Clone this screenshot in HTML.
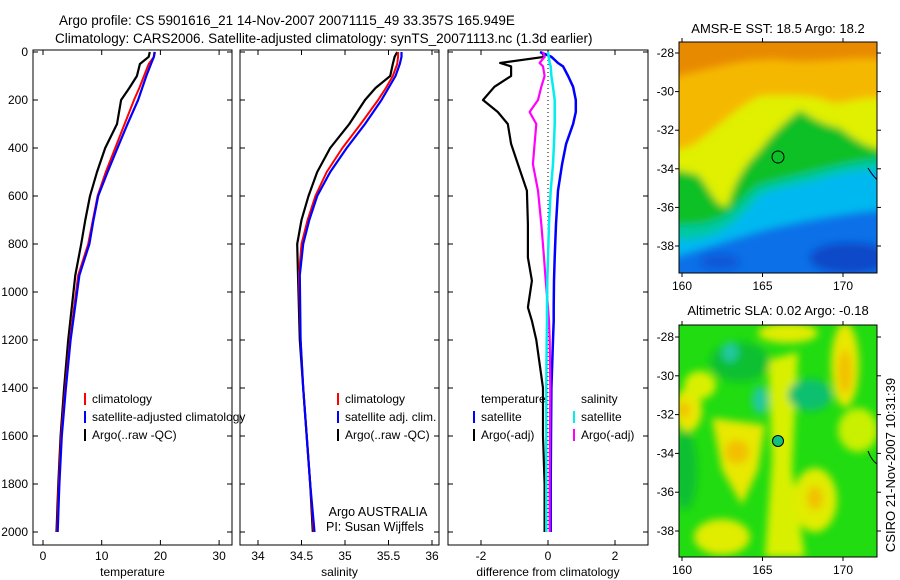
<!DOCTYPE html>
<html><head><meta charset="utf-8"><style>
body{margin:0;background:#fff}
svg{display:block;font-family:"Liberation Sans",sans-serif}
text{fill:#000}
</style></head><body>
<svg id="c" width="900" height="580" xmlns="http://www.w3.org/2000/svg">
<defs>
<filter id="bl" x="-20%" y="-20%" width="140%" height="140%"><feGaussianBlur stdDeviation="4"/></filter>
<filter id="bl2" x="-50%" y="-50%" width="200%" height="200%"><feGaussianBlur stdDeviation="4"/></filter>
<clipPath id="m1"><rect x="679" y="42" width="198" height="231"/></clipPath>
<clipPath id="m2"><rect x="679" y="325" width="198" height="232"/></clipPath>
</defs>
<text x="59" y="25" font-size="13.5">Argo profile: CS 5901616_21 14-Nov-2007 20071115_49 33.357S 165.949E</text>
<text x="55" y="43" font-size="13.5">Climatology: CARS2006. Satellite-adjusted climatology: synTS_20071113.nc (1.3d earlier)</text>

<!-- Map 1 -->
<g clip-path="url(#m1)">
<rect x="679" y="42" width="198" height="231" fill="#0c70e8"/>
<g filter="url(#bl)">
<path d="M660,30 H890 V210 C860,212 820,218 790,225 C760,230 720,245 660,262 Z" fill="#00b8f0"/>
<path d="M660,30 H890 V168 C860,170 840,172 810,182 C790,186 770,190 760,195 C745,212 730,232 700,238 C690,240 675,240 660,240 Z" fill="#00c8a0"/>
<path d="M660,30 H890 V158 C860,160 840,165 820,170 C800,175 785,178 760,185 C745,192 735,215 715,220 C700,226 680,225 660,225 Z" fill="#10c028"/>
<path d="M660,30 H890 V150 C870,150 855,140 840,128 C825,125 815,120 800,110 C790,118 775,130 760,150 C745,165 735,180 728,205 C718,212 708,185 698,175 C688,172 678,170 660,168 Z" fill="#e0f000"/>
<path d="M660,30 H890 V100 C860,92 840,110 825,100 C810,95 790,95 760,96 C740,105 720,125 700,140 C690,148 680,150 660,152 Z" fill="#f5b800"/>
<path d="M660,30 H890 V60 C850,55 820,65 780,60 C740,58 710,70 660,80 Z" fill="#e88a00"/>
</g>
<ellipse cx="850" cy="258" rx="40" ry="15" fill="#0848c8" filter="url(#bl2)"/>
<ellipse cx="720" cy="262" rx="20" ry="8" fill="#0858d8" filter="url(#bl2)"/>
<circle cx="778" cy="157" r="6" fill="none" stroke="#000"/>
<path d="M868,168 Q874,178 880,182" fill="none" stroke="#000"/>
</g>
<rect x="679" y="42" width="198" height="231" fill="none" stroke="#000"/>
<text x="778" y="33" font-size="13" text-anchor="middle">AMSR-E SST: 18.5 Argo: 18.2</text>

<!-- Map 2 -->
<g clip-path="url(#m2)">
<rect x="679" y="325" width="198" height="232" fill="#20dc10"/>
<g filter="url(#bl2)">
<ellipse cx="845" cy="365" rx="14" ry="42" fill="#e8e800"/>
<ellipse cx="845" cy="372" rx="7" ry="22" fill="#f2c000"/>
<ellipse cx="688" cy="410" rx="14" ry="22" fill="#e8e800"/>
<ellipse cx="684" cy="410" rx="6" ry="8" fill="#f2c000"/>
<path d="M712,418 L765,425 L758,470 L742,505 L722,470 Z" fill="#e8e800"/>
<ellipse cx="737" cy="452" rx="12" ry="12" fill="#f2c000"/>
<path d="M768,360 L798,352 L792,470 L805,557 L765,557 L772,460 Z" fill="#d8f000"/>
<ellipse cx="815" cy="500" rx="22" ry="32" fill="#e0ec00"/>
<ellipse cx="815" cy="498" rx="8" ry="12" fill="#f2c000"/>
<ellipse cx="722" cy="537" rx="28" ry="18" fill="#e0ec00"/>
<ellipse cx="788" cy="333" rx="30" ry="10" fill="#e0ec00"/>
<ellipse cx="700" cy="385" rx="16" ry="14" fill="#d8f000"/>
<ellipse cx="858" cy="430" rx="20" ry="22" fill="#c8f000"/>
<ellipse cx="740" cy="362" rx="30" ry="20" fill="#10c030"/>
<ellipse cx="730" cy="352" rx="8" ry="10" fill="#20c8a0"/>
<ellipse cx="760" cy="400" rx="8" ry="14" fill="#20c8a0"/>
<ellipse cx="810" cy="395" rx="22" ry="16" fill="#10c070"/>
<ellipse cx="685" cy="470" rx="12" ry="40" fill="#10c030"/>
</g>
<circle cx="778" cy="441" r="5.5" fill="#10c080" stroke="#000"/>
<path d="M868,451 Q872,462 880,466" fill="none" stroke="#000"/>
</g>
<rect x="679" y="325" width="198" height="232" fill="none" stroke="#000"/>
<text x="778" y="315" font-size="13" text-anchor="middle">Altimetric SLA: 0.02 Argo: -0.18</text>
<text transform="translate(895,465) rotate(-90)" font-size="13" text-anchor="middle">CSIRO 21-Nov-2007 10:31:39</text>

<text x="378" y="516" font-size="12.5" text-anchor="middle">Argo AUSTRALIA</text>
<text x="326" y="531" font-size="12.5">PI: Susan Wijffels</text>
</svg>
<script>
const NS="http://www.w3.org/2000/svg";
const svg=document.getElementById('c');
const depths=[0,20,50,100,150,200,300,400,500,600,700,800,930,1200,1400,1600,1800,2000];
const tempClim=[19.1,18.9,18.0,17.2,16.4,15.5,13.9,12.3,10.7,9.3,8.5,7.7,6.0,4.6,3.8,3.1,2.7,2.4];
const tempSat=[19.0,18.9,18.4,17.6,16.9,16.2,14.4,12.7,11.0,9.4,8.6,7.9,6.2,4.7,3.9,3.2,2.8,2.5];
const tempArgo=[18.2,18.0,16.5,16.0,14.7,13.3,12.6,10.6,9.2,8.0,7.2,6.5,5.5,4.3,3.6,3.0,2.6,2.3];
const salClim=[35.61,35.61,35.60,35.55,35.47,35.38,35.18,34.97,34.79,34.66,34.57,34.50,34.47,34.49,34.52,34.56,34.60,34.64];
const salSat=[35.65,35.65,35.63,35.58,35.50,35.42,35.23,35.02,34.83,34.68,34.59,34.52,34.48,34.49,34.52,34.56,34.60,34.65];
const salArgo=[35.60,35.57,35.55,35.52,35.35,35.23,35.05,34.83,34.68,34.58,34.50,34.45,34.46,34.48,34.52,34.56,34.60,34.63];
const diffDepths=[0,20,46,60,100,145,200,250,300,383,467,578,717,856,953,1064,1120,1200,1400,1600,1800,2000];
const dTempArgo=[-0.2,-0.1,-1.43,-1.1,-1.1,-1.6,-1.94,-1.5,-1.2,-1.1,-0.9,-0.63,-0.6,-0.6,-0.48,-0.6,-0.48,-0.35,-0.15,-0.15,-0.1,-0.1];
const dTempSat=[-0.24,0.1,0.3,0.45,0.6,0.75,0.83,0.83,0.75,0.54,0.42,0.3,0.24,0.2,0.18,0.17,0.17,0.15,0.1,0.09,0.08,0.08];
const dSalSat=[0,0.02,0.05,0.08,0.1,0.15,0.2,0.2,0.2,0.18,0.15,0.08,0.03,0,-0.02,-0.03,-0.03,-0.04,-0.05,-0.05,-0.05,-0.05];
const dSalArgo=[-0.15,-0.1,-0.25,-0.15,-0.1,-0.2,-0.3,-0.55,-0.35,-0.4,-0.45,-0.3,-0.2,-0.12,-0.07,0.0,0.03,0.05,0.07,0.06,0.05,0.05];
const depthTicks=[0,200,400,600,800,1000,1200,1400,1600,1800,2000];
const tTicks=[0,10,20,30];
const sTicks=[34,34.5,35,35.5,36];
const sTickLbl=['34','34.5','35','35.5','36'];
const dTicks=[-2,0,2];
const Y0=52,Yk=0.24,TOP=50,BOT=545;
const yS=d=>Y0+d*Yk;
const panels=[
 {x0:33,x1:232,sx:v=>43+v*5.87,ticks:tTicks,lbl:tTicks.map(String),xl:'temperature',name:'temperature'},
 {x0:240,x1:439,sx:v=>258+(v-34)*87,ticks:sTicks,lbl:sTickLbl,xl:'salinity',name:'salinity'},
 {x0:448,x1:648,sx:v=>548+v*33.5,ticks:dTicks,lbl:['-2','0','2'],xl:'difference from climatology',name:'difference'}
];
function el(tag,attrs,parent){const e=document.createElementNS(NS,tag);for(const k in attrs)e.setAttribute(k,attrs[k]);(parent||svg).appendChild(e);return e;}
function txt(x,y,s,size,anchor,parent){const t=el('text',{x:x,y:y,'font-size':size,'text-anchor':anchor||'start'},parent);t.textContent=s;return t;}
panels.forEach((p,i)=>{
 const g=el('g',{});
 
 
 const fr=el('rect',{x:p.x0,y:TOP,width:p.x1-p.x0,height:BOT-TOP,fill:'none',stroke:'#000'},g);
 
 
 p.ticks.forEach((v,j)=>{const x=p.sx(v);
  el('line',{x1:x,x2:x,y1:TOP,y2:TOP+5,stroke:'#000'},g);
  el('line',{x1:x,x2:x,y1:BOT,y2:BOT-5,stroke:'#000'},g);
  const t=txt(x,BOT+15,p.lbl[j],12,'middle',g);
  
  
 });
 depthTicks.forEach(d=>{const y=yS(d);
  el('line',{x1:p.x0,x2:p.x0+5,y1:y,y2:y,stroke:'#000'},g);
  el('line',{x1:p.x1,x2:p.x1-5,y1:y,y2:y,stroke:'#000'},g);
  if(i===0){const t=txt(p.x0-5,y+4,String(d),12,'end',g);
   
   }
 });
 const xl=txt((p.x0+p.x1)/2,BOT+31,p.xl,12,'middle',g);
 
 
});
function line(p,vals,ds,color,w,name,dash){
 const pts=vals.map((v,k)=>p.sx(v).toFixed(1)+','+yS(ds[k]).toFixed(1)).join(' ');
 const l=el('polyline',{points:pts,fill:'none',stroke:color,'stroke-width':w,'stroke-linejoin':'round'});
 if(dash)l.setAttribute('stroke-dasharray',dash);
 
 
}
line(panels[0],tempArgo,depths,'#000',2.2,'temp-argo-line');
line(panels[0],tempClim,depths,'#f00',2,'temp-climatology-line');
line(panels[0],tempSat,depths,'#00f',2.2,'temp-satellite-line');
line(panels[1],salArgo,depths,'#000',2.2,'sal-argo-line');
line(panels[1],salClim,depths,'#f00',2,'sal-climatology-line');
line(panels[1],salSat,depths,'#00f',2.2,'sal-satellite-line');
const zl=el('line',{x1:panels[2].sx(0),x2:panels[2].sx(0),y1:yS(0),y2:yS(2000),stroke:'#000','stroke-dasharray':'1,3'});


line(panels[2],dTempArgo,diffDepths,'#000',2.2,'diff-temp-argo-line');
line(panels[2],dTempSat,diffDepths,'#00f',2.5,'diff-temp-satellite-line');
line(panels[2],dSalArgo,diffDepths,'#f0f',2.2,'diff-sal-argo-line');
line(panels[2],dSalSat,diffDepths,'#0ee',2.5,'diff-sal-satellite-line');
function leg(x,y,color,label){
 const g=el('g',{});
 
 
 el('line',{x1:x,x2:x,y1:y-10,y2:y+2,stroke:color,'stroke-width':2},g);
 txt(x+7,y,label,12,'start',g);
}
leg(85,403,'#f00','climatology');leg(85,421,'#00f','satellite-adjusted climatology');leg(85,439,'#000','Argo(..raw -QC)');
leg(338,403,'#f00','climatology');leg(338,421,'#00f','satellite adj. clim.');leg(338,439,'#000','Argo(..raw -QC)');
const lt=txt(481,403,'temperature',12);
const ls=txt(581,403,'salinity',12);
leg(474,421,'#00f','satellite');leg(474,439,'#000','Argo(-adj)');
leg(574,421,'#0ee','satellite');leg(574,439,'#f0f','Argo(-adj)');
function mapAxes(y0,y1,latTop,pxDeg,name){
 const g=el('g',{});
 
 
 [160,165,170].forEach(lon=>{const x=682+(lon-160)*16.1;
  el('line',{x1:x,x2:x,y1:y0-4,y2:y0,stroke:'#000'},g);
  el('line',{x1:x,x2:x,y1:y1,y2:y1+4,stroke:'#000'},g);
  txt(x,y1+17,String(lon),12,'middle',g);});
 [-28,-30,-32,-34,-36,-38].forEach(lat=>{const y=latTop+(-28-lat)*pxDeg;
  el('line',{x1:675,x2:679,y1:y,y2:y,stroke:'#000'},g);
  el('line',{x1:877,x2:881,y1:y,y2:y,stroke:'#000'},g);
  txt(674,y+4,String(lat),12,'end',g);});
}
mapAxes(42,273,53,19.3,'sst-map');
mapAxes(325,557,337,19.4,'sla-map');
</script>
</body></html>
